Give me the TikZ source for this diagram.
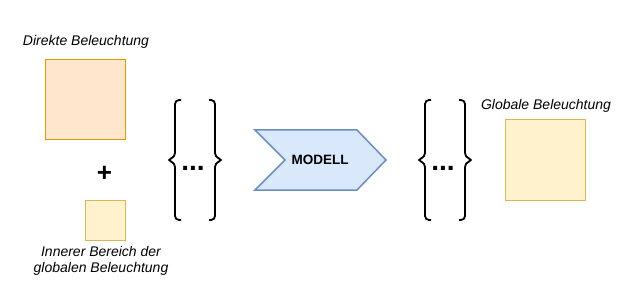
\documentclass[tikz,border=0pt]{standalone}
\usepackage{fontspec}
\setmainfont{Liberation Sans}

\definecolor{orangefill}{HTML}{FFE6CC}
\definecolor{orangeline}{HTML}{D79B00}
\definecolor{yellowfill}{HTML}{FFF2CC}
\definecolor{yellowline}{HTML}{D6B656}
\definecolor{bluefill}{HTML}{DAE8FC}
\definecolor{blueline}{HTML}{6C8EBF}

\tikzset{
  label/.style={font=\fontsize{14}{16}\selectfont\itshape, inner sep=0pt},
  orangebox/.style={draw=orangeline, fill=orangefill, line width=1pt, inner sep=0pt},
  yellowbox/.style={draw=yellowline, fill=yellowfill, line width=1pt, inner sep=0pt},
  brace/.style={line width=1.8pt, rounded corners=4pt},
  braces/.pic={
    \draw[brace] (-14,-60) -- (-20,-60) -- (-20,-3) -- (-28,0) -- (-20,3) -- (-20,60) -- (-14,60);
    \draw[brace] (14,-60) -- (20,-60) -- (20,-3) -- (28,0) -- (20,3) -- (20,60) -- (14,60);
    \node[font=\fontsize{28}{28}\selectfont\bfseries, inner sep=0pt] at (-2,8) {...};
  }
}

\begin{document}
\begin{tikzpicture}[x=1pt, y=-1pt]
  \useasboundingbox (0,0) rectangle (632,302);

  % inputs
  \node[label] (direktlabel) at (86,42) {Direkte Beleuchtung};
  \node[orangebox, minimum size=80pt] (direkt) at (85,100) {};
  \node[font=\fontsize{26}{26}\selectfont\bfseries, inner sep=0pt] (plus) at (104.5,174) {+};
  \node[yellowbox, minimum size=40pt] (innen) at (105,220) {};
  \node[label, align=center] (innenlabel) at (101,261) {Innerer Bereich der\\globalen Beleuchtung};

  \pic (eingabe) at (195,160) {braces};

  % model
  \coordinate (m1) at (255,130);
  \coordinate (m2) at (357,130);
  \coordinate (m3) at (386,160);
  \coordinate (m4) at (357,190);
  \coordinate (m5) at (255,190);
  \coordinate (m6) at (285,160);
  \draw[draw=blueline, fill=bluefill, line width=1.5pt]
    (m1) -- (m2) -- (m3) -- (m4) -- (m5) -- (m6) -- cycle;
  \node[font=\fontsize{13.5}{14}\selectfont\bfseries] (modell) at (320,160) {MODELL};

  \pic (ausgabe) at (445,160) {braces};

  % output
  \node[label] (globallabel) at (546,106) {Globale Beleuchtung};
  \node[yellowbox, minimum size=80pt] (global) at (545.5,160) {};
\end{tikzpicture}
\end{document}
